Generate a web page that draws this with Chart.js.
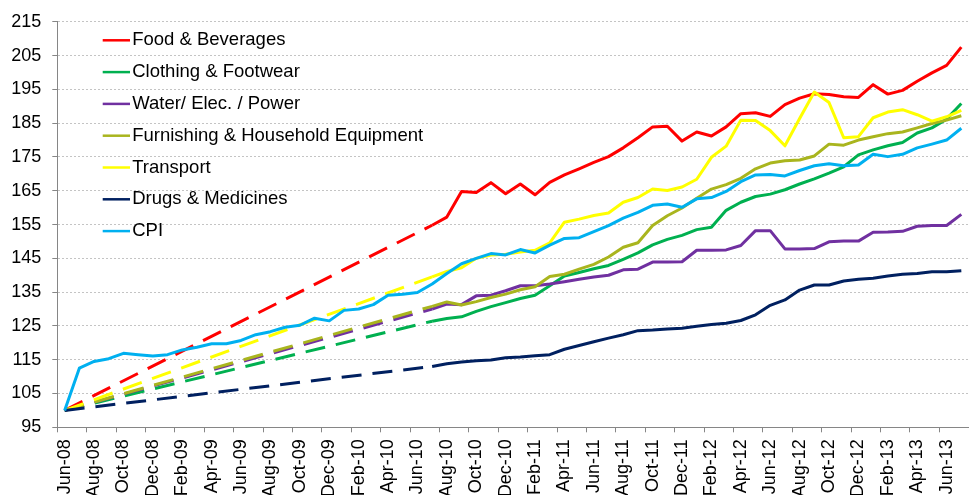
<!DOCTYPE html>
<html><head><meta charset="utf-8">
<script src="https://cdn.jsdelivr.net/npm/chart.js@4.4.1/dist/chart.umd.min.js"></script>
<style>
html,body{margin:0;padding:0;background:#fff;overflow:hidden;width:972px;height:495px;}
#wrap{width:990px;height:495px;position:relative;}
</style></head><body>
<div id="wrap"><canvas id="c"></canvas></div>
<script>
const categories = [
 "Jun-08","Jul-08","Aug-08","Sep-08","Oct-08","Nov-08","Dec-08",
 "Jan-09","Feb-09","Mar-09","Apr-09","May-09","Jun-09","Jul-09","Aug-09","Sep-09","Oct-09","Nov-09","Dec-09",
 "Jan-10","Feb-10","Mar-10","Apr-10","May-10","Jun-10","Jul-10","Aug-10","Sep-10","Oct-10","Nov-10","Dec-10",
 "Jan-11","Feb-11","Mar-11","Apr-11","May-11","Jun-11","Jul-11","Aug-11","Sep-11","Oct-11","Nov-11","Dec-11",
 "Jan-12","Feb-12","Mar-12","Apr-12","May-12","Jun-12","Jul-12","Aug-12","Sep-12","Oct-12","Nov-12","Dec-12",
 "Jan-13","Feb-13","Mar-13","Apr-13","May-13","Jun-13","Jul-13"];

const seriesNames = ["Food & Beverages","Clothing & Footwear","Water/ Elec. / Power","Furnishing & Household Equipment","Transport","Drugs & Medicines","CPI"];
const seriesColors = ["#FF0000","#00B050","#7030A0","#A9B51E","#FFFF00","#002060","#00B0F0"];

const food = [100,
 null,null,null,null,null,null,null,null,null,null,null,null,
 null,null,null,null,null,null,null,null,null,null,null,null,
 154.8,157.2,164.8,164.5,167.4,164.1,167.0,163.8,167.5,169.7,171.5,173.4,175.1,177.7,180.7,183.9,184.1,179.7,182.4,181.2,183.9,187.8,188.1,187.0,190.5,192.4,193.7,193.5,192.8,192.6,196.4,193.6,194.7,197.4,199.9,202.1,207.5];
const clothing = [100,
 null,null,null,null,null,null,null,null,null,null,null,null,
 null,null,null,null,null,null,null,null,null,null,null,null,
 126.4,127.2,127.7,129.3,130.7,131.9,133.1,134.1,136.9,139.8,140.8,141.9,142.9,144.7,146.6,149.0,150.6,151.8,153.5,154.2,159.2,161.6,163.3,164.0,165.3,167.0,168.5,170.2,172.1,175.6,177.1,178.3,179.3,182.1,183.6,186.2,190.8];
const water = [100,
 null,null,null,null,null,null,null,null,null,null,null,null,
 null,null,null,null,null,null,null,null,null,null,null,null,
 130.0,131.5,131.3,133.9,134.1,135.4,136.9,136.9,137.4,138.1,138.8,139.5,140.0,141.6,141.8,143.9,143.9,144.0,147.4,147.4,147.5,148.8,153.2,153.2,147.8,147.8,147.9,149.9,150.1,150.1,152.7,152.8,153.0,154.5,154.7,154.7,158.0];
const furnishing = [100,
 null,null,null,null,null,null,null,null,null,null,null,null,
 null,null,null,null,null,null,null,null,null,null,null,null,
 130.8,132.1,131.2,132.2,133.4,134.4,135.7,136.6,139.6,140.3,141.8,143.2,145.4,148.3,149.6,154.7,157.6,159.9,162.8,165.5,166.8,168.7,171.5,173.2,173.9,174.1,175.3,178.8,178.5,180.0,181.0,181.9,182.4,183.6,184.9,185.9,187.2];
const transport = [100,
 null,null,null,null,null,null,null,null,null,null,null,null,
 null,null,null,null,null,null,null,null,null,null,null,null,
 139.5,141.1,142.2,145.0,146.0,146.2,146.9,147.4,149.6,155.7,156.6,157.7,158.4,161.6,163.0,165.5,165.1,166.1,168.4,174.9,178.2,185.9,185.8,182.8,178.3,186.4,194.2,191.1,180.7,181.0,186.6,188.3,189.0,187.5,185.6,186.9,188.8];
const drugs = [100,
 null,null,null,null,null,null,null,null,null,null,null,null,
 null,null,null,null,null,null,null,null,null,null,null,null,
 113.0,113.8,114.3,114.7,114.9,115.6,115.8,116.2,116.5,118.1,119.2,120.3,121.4,122.4,123.6,123.8,124.1,124.3,124.9,125.4,125.8,126.6,128.3,131.1,132.7,135.6,137.1,137.1,138.3,138.8,139.1,139.8,140.3,140.5,141.0,141.0,141.3];
const cpi = [100,112.5,114.5,115.3,116.9,116.5,116.1,116.5,117.9,118.7,119.7,119.7,120.7,122.4,123.3,124.6,125.2,127.3,126.5,129.6,130.0,131.3,134.1,134.4,134.9,
 137.4,140.5,143.4,145.0,146.4,146.0,147.6,146.6,148.9,150.9,151.1,152.9,154.7,156.9,158.6,160.7,161.1,160.1,162.6,163.0,164.8,167.7,169.7,169.8,169.4,171.0,172.4,173.0,172.4,172.6,175.8,175.1,175.8,177.7,178.8,180.0,183.5];

const yMin = 95, yMax = 215, yStep = 10;
const seriesData = [food, clothing, water, furnishing, transport, drugs, cpi];

const FONT = '"Liberation Sans", Arial, Helvetica, sans-serif';
Chart.defaults.font.family = FONT;
Chart.defaults.font.size = 18;
Chart.defaults.color = '#000';

const insideLegend = {
  id: 'insideLegend',
  afterDatasetsDraw(chart) {
    const {ctx, chartArea} = chart;
    ctx.save();
    ctx.font = '18.5px ' + FONT;
    ctx.textBaseline = 'middle';
    ctx.textAlign = 'left';
    chart.data.datasets.forEach((ds, k) => {
      const y = chartArea.top + 18.5 + 31.8 * k;
      const x0 = chartArea.left + 45.4;
      ctx.strokeStyle = ds.borderColor;
      ctx.lineWidth = 2.5;
      ctx.beginPath(); ctx.moveTo(x0, y); ctx.lineTo(x0 + 27.3, y); ctx.stroke();
      ctx.fillStyle = '#000';
      ctx.fillText(ds.label, x0 + 29.5, y);
    });
    ctx.restore();
  }
};

new Chart(document.getElementById('c'), {
  type: 'line',
  data: {
    labels: categories,
    datasets: seriesNames.map((name, k) => ({
      label: name,
      data: seriesData[k],
      borderColor: seriesColors[k],
      backgroundColor: seriesColors[k],
      borderWidth: 3,
      pointRadius: 0,
      pointHoverRadius: 0,
      tension: 0,
      spanGaps: true,
      borderJoinStyle: 'round',
      order: seriesNames.length - k,
      segment: { borderDash: ctx => (ctx.p0.skip || ctx.p1.skip) ? [20, 11] : undefined }
    }))
  },
  options: {
    responsive: true,
    maintainAspectRatio: false,
    animation: false,
    events: [],
    layout: { padding: { top: 19.3, right: 9.4, left: 0, bottom: 0 } },
    plugins: { legend: { display: false }, tooltip: { enabled: false } },
    scales: {
      x: {
        type: 'category',
        offset: true,
        grid: {
          offset: true, drawOnChartArea: false, drawTicks: true, tickLength: 5, tickWidth: 1,
          tickColor: ctx => (ctx.index % 2 === 0) ? '#868686' : 'rgba(0,0,0,0)'
        },
        border: { display: true, color: '#868686', width: 1 },
        ticks: {
          autoSkip: false, maxRotation: 90, minRotation: 90, padding: 7, color: '#000',
          font: { family: FONT, size: 18 },
          callback: (v, i) => (i % 2 === 0) ? categories[i] : ''
        },
        afterFit: s => { s.height = 67.7; }
      },
      y: {
        min: yMin, max: yMax,
        ticks: { stepSize: yStep, padding: 11, color: '#000', font: { family: FONT, size: 18 } },
        grid: {
          color: ctx => (ctx.index === 0) ? 'rgba(0,0,0,0)' : '#C4C4C4',
          lineWidth: 1, drawTicks: true, tickLength: 5, tickColor: '#868686', tickWidth: 1
        },
        border: { display: true, color: '#868686', width: 1, dash: [2, 2] },
        afterFit: s => { s.width = 57.3; }
      }
    }
  },
  plugins: [insideLegend]
});
</script>
</body></html>
